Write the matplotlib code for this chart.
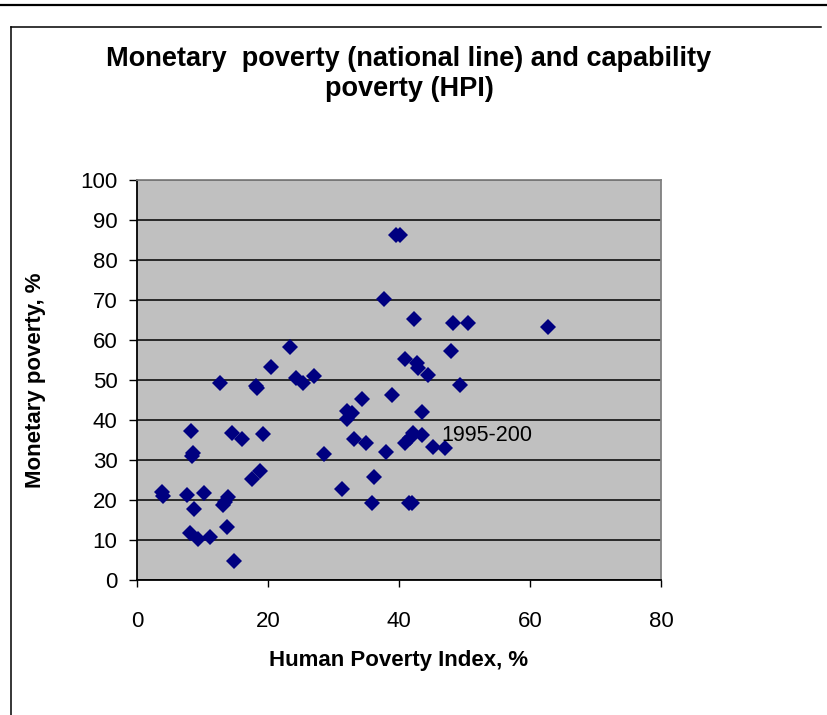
import matplotlib.pyplot as plt
from matplotlib.lines import Line2D

plt.rcParams['font.family'] = ['Liberation Sans', 'DejaVu Sans']

# Human Poverty Index (%) vs monetary poverty (% below national line)
hpi = [3.8, 4.0, 7.7, 10.2, 8.7, 8.3, 8.4, 8.5, 8.1, 9.3, 11.1,
       12.7, 13.8, 14.8, 13.1, 13.9, 13.4, 14.5, 16.1, 17.6, 18.8,
       19.3, 18.1, 18.3, 20.4, 24.2, 25.4, 27.0, 23.4, 28.6, 31.3,
       32.0, 32.9, 32.0, 34.4, 33.2, 34.9, 36.2, 35.9, 38.0, 39.0,
       40.9, 41.7, 41.6, 42.0, 42.7, 42.9, 44.5, 49.3, 43.5, 42.2,
       43.5, 45.2, 47.0, 39.6, 40.1, 42.3, 48.3, 50.6, 62.8, 47.9,
       40.9, 37.7]
monetary = [22.0, 21.0, 21.2, 21.7, 17.7, 37.2, 31.0, 31.8, 11.7, 10.2, 10.7,
            49.2, 13.3, 4.7, 18.7, 20.8, 19.5, 36.8, 35.2, 25.2, 27.2,
            36.4, 48.6, 48.0, 53.2, 50.4, 49.2, 51.1, 58.2, 31.4, 22.8,
            42.3, 41.8, 40.2, 45.2, 35.2, 34.2, 25.7, 19.2, 32.1, 46.2,
            34.2, 35.5, 19.2, 19.2, 54.2, 52.9, 51.3, 48.7, 42.1, 36.7,
            36.2, 33.3, 32.9, 86.2, 86.2, 65.2, 64.2, 64.2, 63.2, 57.2,
            55.2, 70.2]
label_idx = 51          # point carrying the data label
label_text = "1995-200"

xticks = [0, 20, 40, 60, 80]
yticks = list(range(0, 101, 10))

fig = plt.figure(figsize=(8.28, 7.15), dpi=100)
ax = fig.add_axes([137 / 828, 135 / 715, 524 / 828, 400 / 715])
ax.set_facecolor("#C0C0C0")

ax.plot(hpi, monetary, linestyle="none", marker="D", ms=7.8,
        color="#000080", markeredgewidth=0, zorder=3)
ax.annotate(label_text, (hpi[label_idx], monetary[label_idx]),
            xytext=(14, 0), textcoords="offset points",
            ha="left", va="center", fontsize=15.5, zorder=4)

ax.set_xlim(0, 80)
ax.set_ylim(0, 100)
ax.set_xticks(xticks)
ax.set_yticks(yticks)
ax.tick_params(axis="x", direction="out", length=5, width=1, pad=17, labelsize=16)
ax.tick_params(axis="y", direction="out", length=6, width=1, pad=8, labelsize=16)
ax.yaxis.grid(True, color="black", linewidth=1.1)
ax.set_axisbelow(True)
for side in ["left", "bottom"]:
    ax.spines[side].set_color("black")
    ax.spines[side].set_linewidth(1.3)
for side in ["top", "right"]:
    ax.spines[side].set_color("#808080")
    ax.spines[side].set_linewidth(1.3)

ax.set_xlabel("Human Poverty Index, %", fontsize=16, fontweight="bold", labelpad=13)
ax.set_ylabel("Monetary poverty, %", fontsize=16, fontweight="bold", labelpad=25)

fig.text(0.494, 1 - 74 / 715,
         "Monetary  poverty (national line) and capability\npoverty (HPI)",
         ha="center", va="center", fontsize=19.5, fontweight="bold",
         linespacing=1.2)

# page rule and chart frame
fig.add_artist(Line2D([0, 1], [1 - 5 / 715] * 2, color="black", linewidth=1.6))
fig.add_artist(Line2D([10.5 / 828, 821 / 828], [1 - 27 / 715] * 2,
                      color="black", linewidth=1.1))
fig.add_artist(Line2D([10.5 / 828] * 2, [0, 1 - 27 / 715],
                      color="black", linewidth=1.1))

fig.savefig("out.png", dpi=100)
